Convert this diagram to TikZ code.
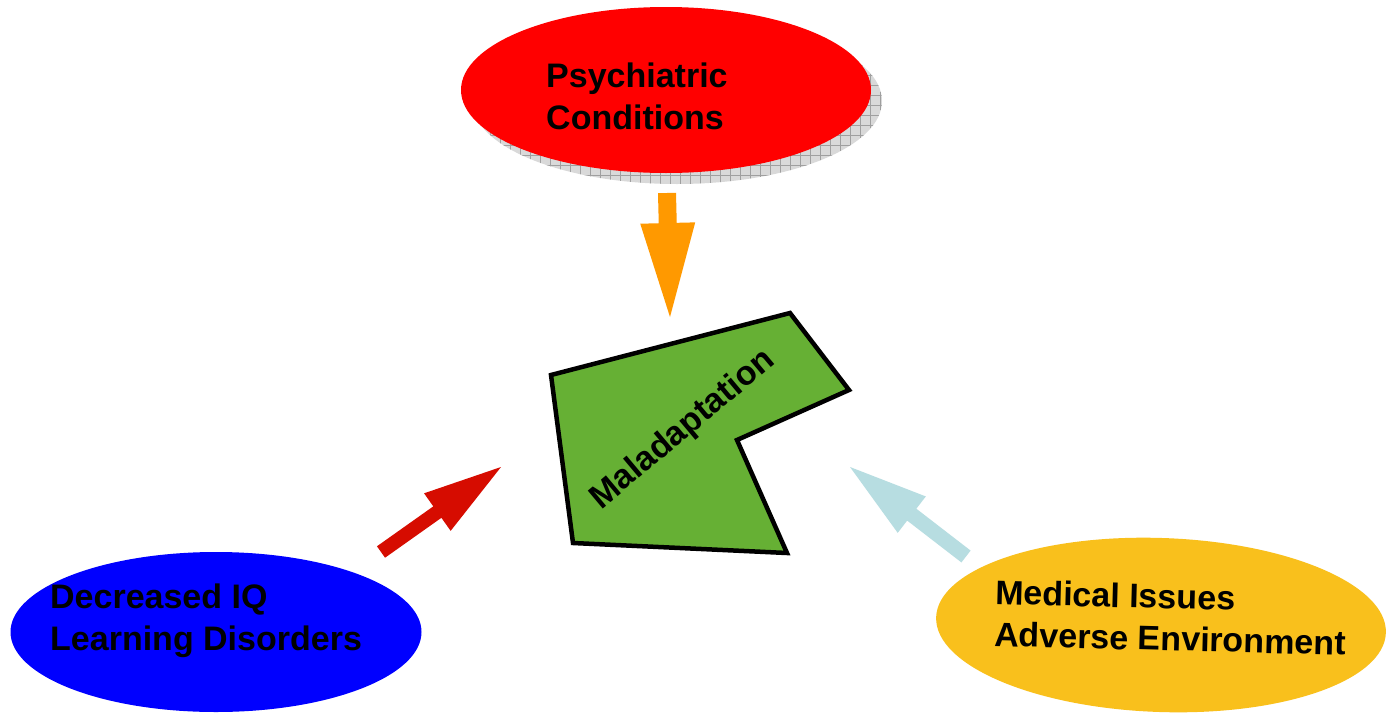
\documentclass[tikz,border=0pt]{standalone}
\usepackage{fontspec}
\setmainfont{Liberation Sans}
\usetikzlibrary{shapes.geometric,calc,patterns.meta}
\definecolor{psyred}{RGB}{255,0,0}
\definecolor{iqblue}{RGB}{0,0,255}
\definecolor{medyellow}{RGB}{249,192,28}
\definecolor{arrorange}{RGB}{255,153,0}
\definecolor{arrred}{RGB}{214,12,0}
\definecolor{arrblue}{RGB}{183,221,225}
\definecolor{malgreen}{RGB}{102,176,52}
\newcommand\myblockarrow[6]{% colour, tail, tip, half shaft, half head, head length
  \coordinate (#2-hb) at ($(#3)!#6!(#2)$);
  \fill[#1] ($(#2)!#4!90:(#3)$) -- ($(#2-hb)!#4!-90:(#2)$) -- ($(#2-hb)!#5!-90:(#2)$)
    -- (#3) -- ($(#2-hb)!#5!90:(#2)$) -- ($(#2-hb)!#4!90:(#2)$) -- ($(#2)!#4!-90:(#3)$) -- cycle;
}
\tikzset{
  blob/.style={ellipse, inner sep=0pt, draw=none},
  lbl/.style={font=\bfseries\fontsize{34}{42}\selectfont, align=left, inner sep=0pt, anchor=base west, text=black},
}
\begin{document}
\begin{tikzpicture}[x=1pt,y=-1pt]
\useasboundingbox[fill=white] (0,0) rectangle (1386,715);
% top ellipse with shadow
\node[blob, minimum width=410pt, minimum height=166pt, preaction={fill=gray!30},
      pattern={Hatch[angle=0,distance=10pt,line width=0.5pt]}, pattern color=gray!75] (psyshadow) at (677,101) {};
\node[blob, fill=psyred, minimum width=410pt, minimum height=166pt] (psy) at (666,90) {};
\node[lbl] (psytxt) at (546,129) {Psychiatric\\Conditions};
% bottom left ellipse
\node[blob, fill=iqblue, minimum width=411pt, minimum height=160pt] (iq) at (216,632) {};
\node[lbl] (iqtxt) at (50,650) {Decreased IQ\\Learning Disorders};
% bottom right ellipse
\node[blob, fill=medyellow, minimum width=450pt, minimum height=174pt, rotate=-2] (med) at (1161,625) {};
\node[lbl, rotate=-1.5] (medtxt) at (994,646) {Medical Issues\\Adverse Environment};
% central shape
\draw[fill=malgreen, line width=4.5pt, line join=miter]
  (551,375) -- (790,313) -- (849,390) -- (737,440) -- (787,553) -- (573,543) -- cycle;
\node[font=\bfseries\fontsize{34}{42}\selectfont, rotate=40, inner sep=0pt] (mal) at (683,430) {Maladaptation};
% block arrows
\coordinate (ot) at (667,193);
\coordinate (oh) at (670,317);
\myblockarrow{arrorange}{ot}{oh}{9pt}{27.5pt}{94pt}
\coordinate (rt) at (381,552);
\coordinate (rh) at (501,467);
\myblockarrow{arrred}{rt}{rh}{7pt}{23pt}{78pt}
\coordinate (bt) at (966,556.5);
\coordinate (bh) at (850,467);
\myblockarrow{arrblue}{bt}{bh}{7.5pt}{23pt}{78pt}
\end{tikzpicture}
\end{document}
